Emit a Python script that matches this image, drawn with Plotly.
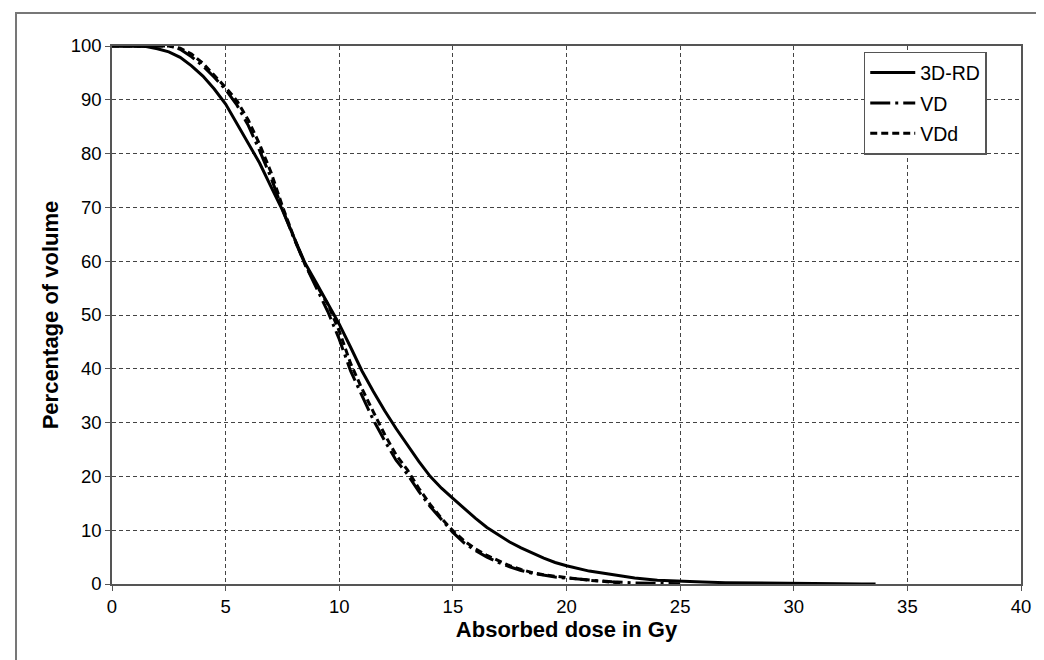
import plotly.graph_objects as go

# Absorbed dose (Gy) sample points and percentage of volume per method
dose_3drd = [0, 1, 1.5, 2, 2.5, 3, 3.5, 4, 4.5, 5, 5.5, 6, 6.5, 7, 7.5, 8, 8.5, 9, 9.5, 10,
             10.5, 11, 11.5, 12, 12.5, 13, 13.5, 14, 14.5, 15, 15.5, 16, 16.5, 17, 17.5, 18,
             18.5, 19, 19.5, 20, 21, 22, 23, 24, 25, 26, 27, 28, 29, 30, 31, 32, 33, 33.6]
vol_3drd = [100, 100, 99.9, 99.5, 98.9, 97.9, 96.3, 94.4, 92.0, 89.2, 85.6, 82.0, 78.2, 73.8,
            69.5, 64.5, 59.6, 55.9, 52.2, 48.3, 44.0, 39.6, 35.8, 32.2, 28.9, 25.8, 22.8, 20.0,
            17.8, 15.9, 14.0, 12.2, 10.5, 9.1, 7.8, 6.7, 5.7, 4.8, 4.0, 3.4, 2.4, 1.7, 1.1, 0.7,
            0.5, 0.35, 0.25, 0.18, 0.12, 0.08, 0.05, 0.03, 0.02, 0.0]

dose_vd = [0, 2.5, 2.75, 3, 3.5, 4, 4.5, 5, 5.5, 6, 6.5, 7, 7.5, 8, 8.5, 9, 9.5, 10, 10.5, 11,
           11.5, 12, 12.5, 13, 13.5, 14, 14.5, 15, 15.5, 16, 16.5, 17, 17.5, 18, 18.5, 19, 19.5,
           20, 21, 22, 23, 24, 25]
vol_vd = [100, 100, 99.8, 99.4, 98.0, 96.3, 94.2, 91.9, 89.0, 85.2, 80.5, 75.5, 69.7, 64.3,
          59.4, 55.1, 50.6, 45.5, 39.6, 35.0, 30.5, 26.6, 23.0, 20.4, 17.2, 14.4, 12.0, 9.6,
          7.6, 6.2, 5.0, 4.0, 3.2, 2.5, 2.0, 1.6, 1.3, 1.1, 0.7, 0.4, 0.2, 0.1, 0.05]

dose_vdd = [0, 2.5, 3, 3.5, 4, 4.5, 5, 5.5, 6, 6.5, 7, 7.5, 8, 8.5, 9, 9.5, 10, 10.5, 11, 11.5,
            12, 12.5, 13, 13.5, 14, 14.5, 15, 15.5, 16, 16.5, 17, 17.5, 18, 18.5, 19, 19.5, 20,
            21, 22, 22.5]
vol_vdd = [100, 100, 99.6, 98.5, 96.8, 94.6, 92.3, 89.8, 86.2, 81.7, 76.5, 70.2, 64.5, 59.3,
           55.5, 52.0, 47.0, 41.0, 36.3, 32.0, 27.8, 24.0, 21.2, 17.8, 14.8, 12.2, 9.9, 8.0, 6.5,
           5.3, 4.3, 3.4, 2.7, 2.1, 1.7, 1.4, 1.2, 0.7, 0.3, 0.15]

x_ticks = [0, 5, 10, 15, 20, 25, 30, 35, 40]
y_ticks = [0, 10, 20, 30, 40, 50, 60, 70, 80, 90, 100]

FONT = "Liberation Sans, Arial, sans-serif"

fig = go.Figure()
fig.add_trace(go.Scatter(x=dose_3drd, y=vol_3drd, mode="lines", name="3D-RD",
                         legendgroup="a",
                         line=dict(color="black", width=3)))
fig.add_trace(go.Scatter(x=dose_vd, y=vol_vd, mode="lines", name="VD",
                         legendgroup="b",
                         line=dict(color="black", width=3, dash="20px,5px,3px,5px")))
fig.add_trace(go.Scatter(x=dose_vdd, y=vol_vdd, mode="lines", name="VDd",
                         legendgroup="c",
                         line=dict(color="black", width=3, dash="7px,4px")))

axis_common = dict(
    showline=True, linecolor="#555", linewidth=1.5, mirror=True,
    showgrid=True, gridcolor="#444", gridwidth=1, griddash="4px,3px",
    zeroline=False, ticks="outside", ticklen=5, tickcolor="#555", tickwidth=1.2,
    tickfont=dict(family=FONT, size=18.5, color="black"),
)

fig.update_xaxes(range=[0, 40], tickvals=x_ticks,
                 title=dict(text="<b>Absorbed dose in Gy</b>",
                            font=dict(family=FONT, size=22, color="black"), standoff=4),
                 **axis_common)
fig.update_yaxes(range=[0, 100], tickvals=y_ticks,
                 title=dict(text="<b>Percentage of volume</b>",
                            font=dict(family=FONT, size=22, color="black"), standoff=6),
                 **axis_common)

fig.update_layout(
    width=1044, height=660,
    margin=dict(l=104, r=31, t=38, b=84),
    plot_bgcolor="white", paper_bgcolor="white",
    showlegend=True,
    legend=dict(x=0.827, y=0.989, xanchor="left", yanchor="top",
                bordercolor="#555", borderwidth=1.5, bgcolor="white",
                font=dict(family=FONT, size=19.5, color="black"),
                tracegroupgap=2, itemwidth=45, entrywidth=88),
    shapes=[dict(type="rect", xref="paper", yref="paper",
                 x0=-0.1056, x1=1.2, y0=-0.3, y1=1.0613,
                 line=dict(color="#777", width=2), fillcolor="rgba(0,0,0,0)",
                 layer="below")],
)

fig.write_html("out.html")
